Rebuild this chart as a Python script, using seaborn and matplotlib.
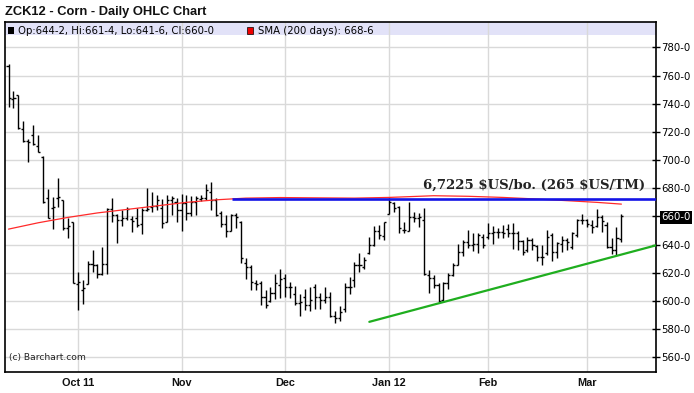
import matplotlib
matplotlib.use("Agg")
import matplotlib.pyplot as plt
from matplotlib.patches import Rectangle
import seaborn as sns
import pandas as pd

# ---------------- data ----------------
opens = [766.7, 743.7, 746.0, 722.4, 713.5, 717.7, 710.0, 702.3, 672.8, 665.7,
         673.2, 671.6, 651.9, 656.2, 612.4, 607.7, 612.4, 626.6, 625.4, 619.5,
         626.6, 665.2, 661.0, 657.4, 658.6, 658.0, 658.6, 654.4, 664.5, 666.9,
         667.6, 665.7, 655.8, 671.6, 670.4, 664.5, 669.3, 662.2, 670.4, 672.3,
         672.8, 677.5, 671.6, 662.2, 654.4, 649.6, 661.0, 655.8, 626.7, 624.3,
         612.5, 612.5, 603.0, 600.2, 605.4, 611.3, 616.0, 610.1, 604.9, 598.7,
         603.0, 597.1, 609.6, 603.0, 600.6, 603.0, 589.3, 587.6, 594.0, 609.6,
         614.8, 625.5, 624.3, 633.8, 639.7, 649.8, 646.3, 661.5, 669.3, 666.9,
         650.3, 649.6, 659.8, 659.1, 657.4, 618.4, 616.0, 611.3, 600.6, 612.5,
         618.4, 625.5, 634.5, 641.6, 639.7, 640.2, 645.6, 645.6, 648.0, 649.1,
         649.1, 650.8, 648.0, 648.0, 642.8, 636.1, 643.2, 639.0, 630.9, 634.2,
         646.8, 635.0, 640.4, 643.2, 638.5, 646.8, 657.4, 657.4, 653.9, 653.2,
         659.8, 653.9, 638.0, 636.1, 644.25]
highs = [768.1, 749.0, 746.1, 727.7, 714.9, 724.8, 717.7, 703.0, 679.4, 674.0,
         687.0, 671.6, 658.6, 656.2, 620.7, 614.8, 628.3, 636.1, 625.9, 638.5,
         665.7, 673.2, 661.4, 664.5, 666.8, 660.5, 665.7, 666.2, 680.4, 677.5,
         675.2, 672.3, 675.2, 674.5, 673.3, 675.6, 675.2, 674.7, 674.5, 675.2,
         682.7, 684.2, 672.8, 663.8, 661.0, 661.4, 662.2, 656.7, 630.2, 625.2,
         614.8, 614.3, 607.7, 610.1, 619.1, 622.4, 619.1, 613.6, 610.6, 604.9,
         608.2, 610.1, 612.0, 605.4, 609.6, 606.5, 593.1, 596.4, 612.5, 617.2,
         627.8, 633.8, 630.9, 645.1, 653.2, 653.9, 656.2, 673.3, 670.4, 667.6,
         656.2, 670.0, 663.3, 662.2, 666.2, 621.9, 618.4, 612.5, 613.2, 619.6,
         626.7, 640.2, 643.2, 650.3, 648.0, 648.0, 647.3, 655.1, 653.4, 652.0,
         653.6, 654.6, 655.5, 649.9, 643.2, 645.6, 644.4, 639.7, 639.7, 650.3,
         648.4, 642.1, 646.1, 644.4, 649.1, 657.9, 661.7, 657.9, 657.4, 665.0,
         661.0, 656.2, 644.4, 652.2, 661.5]
lows = [737.4, 737.0, 722.0, 713.0, 698.3, 710.6, 705.4, 669.2, 658.6, 651.0,
        666.8, 650.3, 644.4, 612.9, 593.5, 598.2, 612.4, 620.7, 616.4, 618.3,
        619.5, 656.2, 640.8, 653.4, 657.4, 648.7, 652.7, 647.7, 663.8, 662.9,
        664.3, 651.5, 655.8, 661.0, 655.8, 649.6, 657.4, 660.5, 661.0, 670.9,
        671.6, 664.5, 660.5, 652.7, 645.6, 649.6, 651.5, 626.7, 615.5, 607.7,
        607.7, 597.1, 594.7, 599.5, 601.1, 601.8, 603.0, 601.8, 597.1, 589.3,
        593.5, 593.1, 594.0, 594.0, 598.3, 588.8, 584.5, 586.0, 592.3, 604.9,
        609.6, 620.7, 622.4, 633.3, 639.0, 643.7, 643.2, 661.4, 663.3, 648.0,
        648.0, 649.6, 655.8, 652.7, 618.4, 605.4, 609.0, 599.5, 599.5, 608.5,
        617.9, 625.5, 632.1, 637.8, 635.4, 633.8, 637.3, 644.0, 640.2, 644.9,
        644.9, 645.6, 636.6, 636.1, 632.6, 635.0, 636.1, 628.6, 625.5, 632.6,
        628.6, 630.2, 635.0, 636.1, 636.6, 645.6, 654.6, 652.2, 648.0, 652.2,
        649.1, 637.3, 633.3, 632.6, 641.75]
closes = [743.8, 744.2, 722.5, 713.5, 713.0, 711.1, 705.9, 670.4, 659.0, 666.8,
          674.0, 651.5, 653.4, 612.9, 613.6, 608.9, 626.6, 625.4, 619.5, 626.6,
          665.2, 660.9, 657.4, 658.6, 665.2, 656.7, 653.9, 664.5, 665.2, 667.6,
          671.6, 655.1, 671.6, 672.8, 664.5, 669.3, 662.2, 670.4, 672.8, 672.8,
          678.7, 671.6, 661.0, 654.4, 649.6, 661.0, 659.8, 630.2, 624.3, 613.2,
          612.0, 603.0, 597.1, 605.4, 612.5, 615.3, 610.1, 610.1, 598.7, 599.5,
          597.1, 600.6, 603.0, 600.6, 603.0, 589.3, 587.6, 592.3, 609.6, 610.1,
          625.5, 625.5, 629.0, 639.7, 649.8, 646.8, 655.8, 670.0, 666.2, 651.5,
          650.3, 659.8, 659.1, 659.8, 618.9, 616.0, 611.3, 600.0, 612.5, 618.4,
          625.5, 634.5, 641.6, 639.7, 640.2, 646.8, 639.7, 648.0, 649.1, 649.1,
          648.0, 648.0, 648.0, 642.8, 635.0, 643.2, 639.7, 631.4, 630.9, 645.6,
          635.0, 640.9, 643.2, 642.1, 648.0, 657.4, 657.4, 654.6, 652.7, 659.8,
          657.0, 638.0, 636.1, 644.4, 660.0]

sma_day = [0, 6, 12, 18, 24, 30, 36, 42, 48, 55, 62, 70, 77, 86, 93, 100, 106, 113, 119, 124]
sma_val = [651.0, 655.5, 659.3, 662.5, 665.0, 667.5, 670.0, 671.8, 673.0, 673.4,
           673.2, 673.0, 673.5, 674.7, 674.3, 673.5, 672.5, 671.2, 670.0, 668.75]

trend_day = [73, 131]
trend_val = [585.2, 639.5]

resistance_val = 672.25
resistance_start = 45.2

month_pos = [14, 35, 56, 77, 97, 117]
month_lbl = ["Oct 11", "Nov", "Dec", "Jan 12", "Feb", "Mar"]
y_ticks = [560, 580, 600, 620, 640, 660, 680, 700, 720, 740, 760, 780]

# ---------------- figure ----------------
sns.set_theme(style="white")
plt.rcParams['font.family'] = ['DejaVu Sans']

W, H = 694, 393
fig = plt.figure(figsize=(W / 100, H / 100), dpi=100)
fig.patch.set_facecolor("white")
ax = fig.add_axes([5 / W, 1 - 372 / H, 651 / W, 350 / H])
ax.set_facecolor("white")

xmin, xmax = -0.71, 131.0
ax.set_xlim(xmin, xmax)
ax.set_ylim(549.6, 798.0)

# legend band
band_h = 13 / 350
ax.add_patch(Rectangle((0, 1 - band_h), 1, band_h, transform=ax.transAxes,
                       facecolor="#e2e2f8", edgecolor="none", zorder=0.3))

# grid
for yv in y_ticks:
    ax.axhline(yv, color="#d9d9d9", lw=1.0, zorder=0.5)
for xv in month_pos:
    ax.axvline(xv, color="#d9d9d9", lw=1.0, zorder=0.5)

# OHLC bars
days = list(range(len(opens)))
df = pd.DataFrame({"day": days, "open": opens, "high": highs, "low": lows, "close": closes})
tk = 0.42
ax.vlines(df["day"], df["low"], df["high"], color="black", lw=1.0, zorder=3)
ax.hlines(df["open"], df["day"] - tk, df["day"], color="black", lw=1.0, zorder=3)
ax.hlines(df["close"], df["day"], df["day"] + tk, color="black", lw=1.0, zorder=3)

# SMA
sma_df = pd.DataFrame({"day": sma_day, "sma": sma_val})
sns.lineplot(data=sma_df, x="day", y="sma", ax=ax, color="#ff2a2a", lw=0.9, zorder=4)

# resistance line
ax.hlines(resistance_val, resistance_start, xmax, color="#1414e6", lw=1.9, zorder=5)

# trend line
tr_df = pd.DataFrame({"day": trend_day, "v": trend_val})
sns.lineplot(data=tr_df, x="day", y="v", ax=ax, color="#1fae1f", lw=1.6, zorder=5)

ax.text(128.8, 682.3, "6,7225 \\$US/bo. (265 \\$US/TM)", ha="right", va="center",
        family="DejaVu Serif", fontweight="bold", fontsize=9.5, color="#222222", zorder=6)

ax.text(0.006, 0.042, "(c) Barchart.com", transform=ax.transAxes, fontsize=6.6,
        color="#222222", ha="left", va="center")

ax.set_xlabel("")
ax.set_ylabel("")

# axes styling
for s in ax.spines.values():
    s.set_color("black")
    s.set_linewidth(1.2)

ax.set_xticks(month_pos)
ax.set_xticklabels(month_lbl, fontsize=7.8, fontweight="bold", family="Liberation Sans")
ax.tick_params(axis="x", length=0, pad=4, colors="#111111")

ax.yaxis.tick_right()
ax.set_yticks(y_ticks)
ax.set_yticklabels([f"{v}-0" for v in y_ticks])
ax.tick_params(axis="y", direction="inout", length=6, width=1, labelsize=7.3, pad=1,
               colors="black", right=True, left=False)
for lab, v in zip(ax.get_yticklabels(), y_ticks):
    if v == 660:
        lab.set_color("white")
        lab.set_bbox(dict(facecolor="black", edgecolor="none", pad=1.0))

# title and legend text
fig.text(5 / W, 1 - 11.5 / H, "ZCK12 - Corn - Daily OHLC Chart", fontsize=9.3,
         fontweight="bold", family="Liberation Sans", ha="left", va="center", color="#111111")

fig.patches.append(Rectangle((7.5 / W, 1 - 33.5 / H), 6 / W, 6 / H, transform=fig.transFigure,
                             facecolor="black", edgecolor="none"))
fig.text(18 / W, 1 - 30.5 / H, "Op:644-2, Hi:661-4, Lo:641-6, Cl:660-0", fontsize=7.3,
         ha="left", va="center", color="black")
fig.patches.append(Rectangle((247 / W, 1 - 33.5 / H), 6 / W, 6 / H, transform=fig.transFigure,
                             facecolor="#ee0000", edgecolor="black", lw=0.5))
fig.text(258 / W, 1 - 30.5 / H, "SMA (200 days): 668-6", fontsize=7.3,
         ha="left", va="center", color="black")

fig.savefig("out.png", dpi=100)
